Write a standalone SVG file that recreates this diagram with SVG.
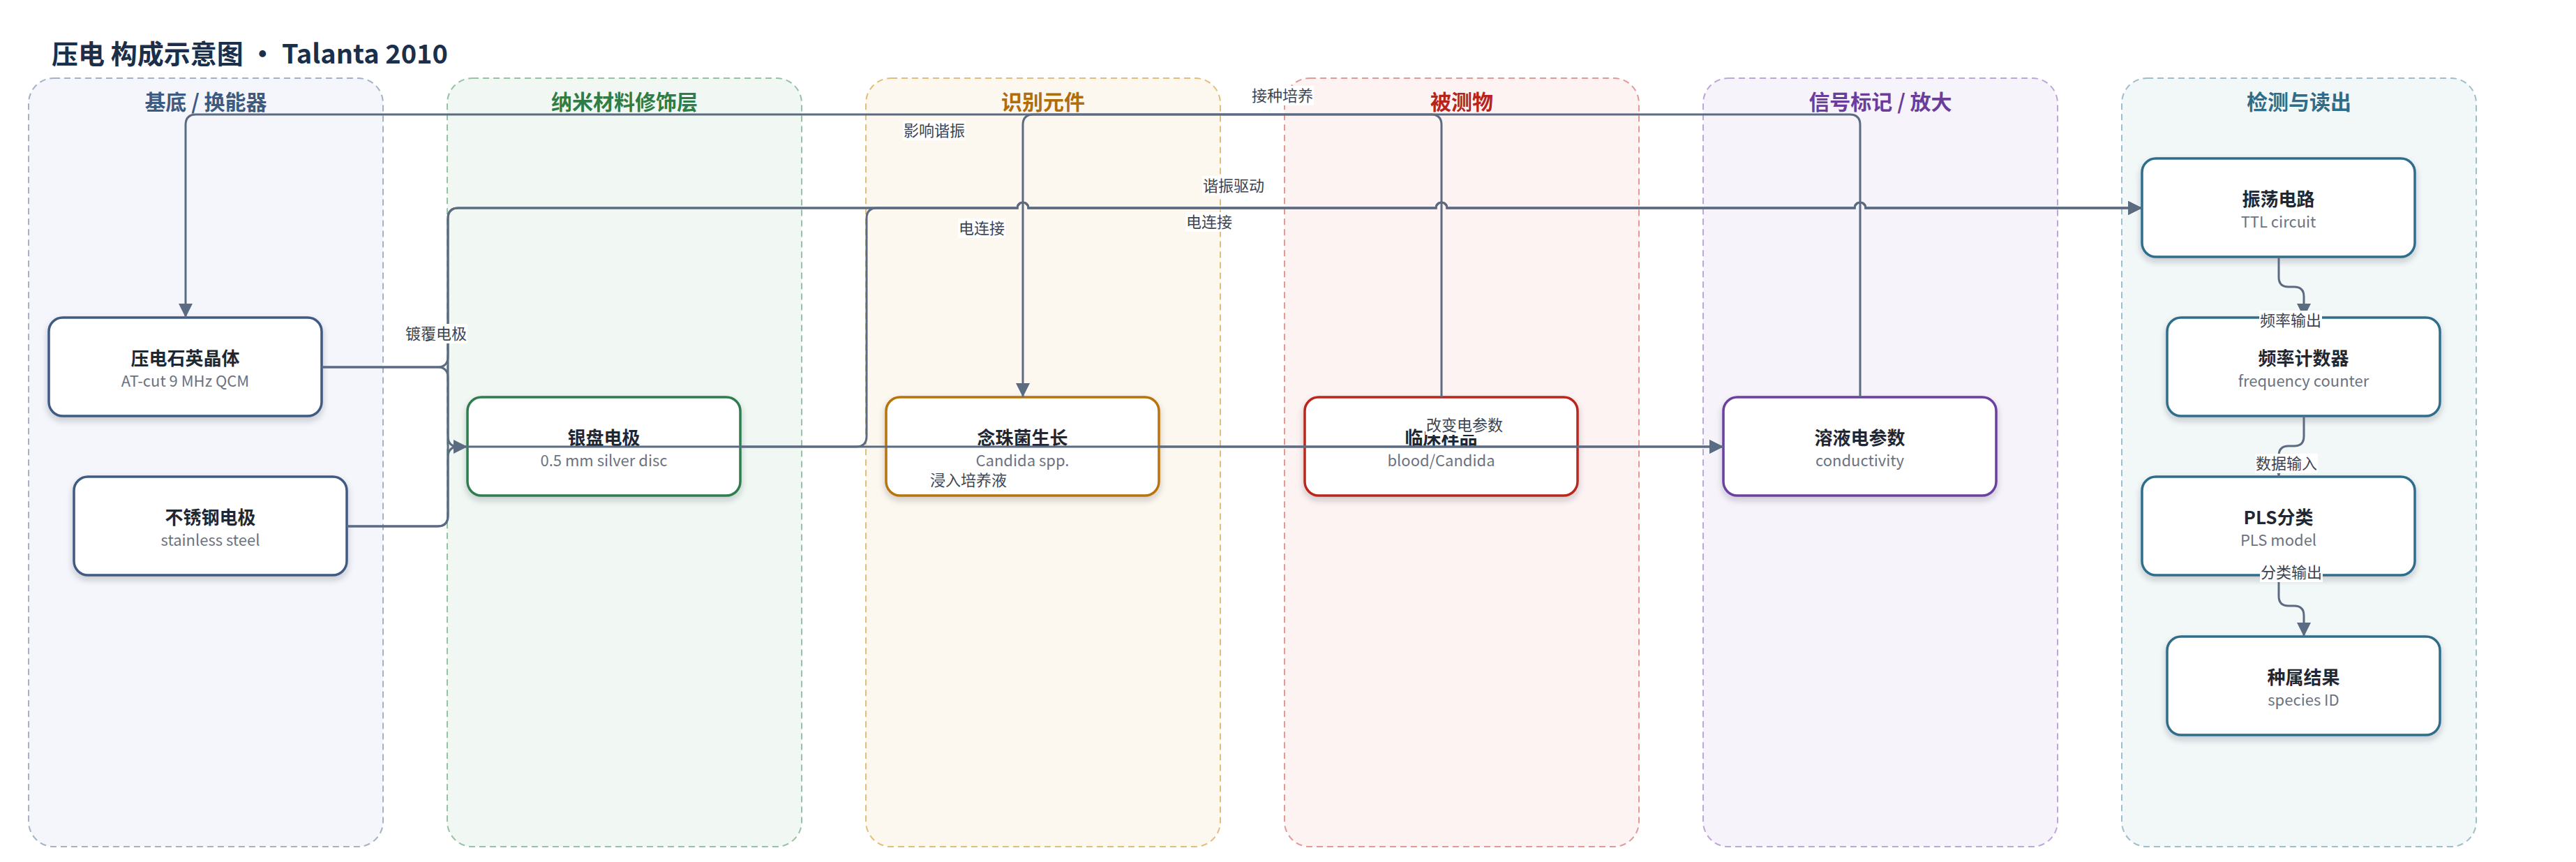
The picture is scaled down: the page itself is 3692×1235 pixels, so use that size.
<svg xmlns="http://www.w3.org/2000/svg" width="3692" height="1235" viewBox="0 0 3692 1235">
<style>
text{font-family:"Noto Sans CJK SC","Noto Sans",sans-serif}
.lane{stroke-width:2;stroke-dasharray:9 6}
.lt{font-size:30px;font-weight:700;text-anchor:middle}
.node rect{fill:#fff;stroke-width:3.5;filter:url(#sh)}
.t{font-size:26px;font-weight:700;fill:#1f2733;text-anchor:middle}
.s{font-size:22px;fill:#6b7280;text-anchor:middle}
.e{fill:none;stroke:#5b6b82;stroke-width:3}
.lb rect{fill:#fff}
.lb text{font-size:22px;fill:#3b4452;text-anchor:middle}
</style>
<defs>
<filter id="sh" x="-10%" y="-10%" width="120%" height="130%">
<feDropShadow dx="0" dy="5" stdDeviation="5" flood-color="#1f2937" flood-opacity="0.22"/>
</filter>
<marker id="ar" markerUnits="userSpaceOnUse" markerWidth="20" markerHeight="20" refX="20" refY="10" orient="auto">
<path d="M0,0 L20,10 L0,20 z" fill="#5b6b82"/>
</marker>
</defs>
<rect width="3692" height="1235" fill="#fff"/>
<text x="74" y="91" font-size="38" font-weight="700" fill="#1b2f4b">压电 构成示意图 · Talanta 2010</text>

<g id="lanes">
<g id="lane-substrate"><rect class="lane" x="41" y="112" width="508" height="1101" rx="36" fill="#f4f6fb" stroke="#a5b1c6"/><text class="lt" x="295" y="157" fill="#3d5a80">基底 / 换能器</text></g>
<g id="lane-nano"><rect class="lane" x="641" y="112" width="508" height="1101" rx="36" fill="#f1f8f3" stroke="#94c4a3"/><text class="lt" x="895" y="157" fill="#2e7d46">纳米材料修饰层</text></g>
<g id="lane-recog"><rect class="lane" x="1241" y="112" width="508" height="1101" rx="36" fill="#fdf8ef" stroke="#e3bd7a"/><text class="lt" x="1495" y="157" fill="#b26d0b">识别元件</text></g>
<g id="lane-analyte"><rect class="lane" x="1841" y="112" width="508" height="1101" rx="36" fill="#fdf3f2" stroke="#e39a97"/><text class="lt" x="2095" y="157" fill="#b8231d">被测物</text></g>
<g id="lane-signal"><rect class="lane" x="2441" y="112" width="508" height="1101" rx="36" fill="#f6f3fb" stroke="#bda6dc"/><text class="lt" x="2695" y="157" fill="#6a3d9a">信号标记 / 放大</text></g>
<g id="lane-readout"><rect class="lane" x="3041" y="112" width="508" height="1101" rx="36" fill="#f2f7f8" stroke="#9dbfcb"/><text class="lt" x="3295" y="157" fill="#2f6c8a">检测与读出</text></g>
</g>

<g id="nodes">
<g id="n-quartz" class="node"><rect x="70" y="455" width="391" height="141" rx="20" stroke="#3f5a82"/><text class="t" x="265.5" y="523">压电石英晶体</text><text class="s" x="265.5" y="554">AT-cut 9 MHz QCM</text></g>
<g id="n-steel" class="node"><rect x="106" y="683" width="391" height="141" rx="20" stroke="#3f5a82"/><text class="t" x="301.5" y="751">不锈钢电极</text><text class="s" x="301.5" y="782">stainless steel</text></g>
<g id="n-silver" class="node"><rect x="670" y="569" width="391" height="141" rx="20" stroke="#2e7d4f"/><text class="t" x="865.5" y="637">银盘电极</text><text class="s" x="865.5" y="668">0.5 mm silver disc</text></g>
<g id="n-candida" class="node"><rect x="1270" y="569" width="391" height="141" rx="20" stroke="#b8730c"/><text class="t" x="1465.5" y="637">念珠菌生长</text><text class="s" x="1465.5" y="668">Candida spp.</text></g>
<g id="n-sample" class="node"><rect x="1870" y="569" width="391" height="141" rx="20" stroke="#b8281f"/><text class="t" x="2065.5" y="637">临床样品</text><text class="s" x="2065.5" y="668">blood/Candida</text></g>
<g id="n-solution" class="node"><rect x="2470" y="569" width="391" height="141" rx="20" stroke="#6b3fa0"/><text class="t" x="2665.5" y="637">溶液电参数</text><text class="s" x="2665.5" y="668">conductivity</text></g>
<g id="n-osc" class="node"><rect x="3070" y="227" width="391" height="141" rx="20" stroke="#2f6d8c"/><text class="t" x="3265.5" y="295">振荡电路</text><text class="s" x="3265.5" y="326">TTL circuit</text></g>
<g id="n-counter" class="node"><rect x="3106" y="455" width="391" height="141" rx="20" stroke="#2f6d8c"/><text class="t" x="3301.5" y="523">频率计数器</text><text class="s" x="3301.5" y="554">frequency counter</text></g>
<g id="n-pls" class="node"><rect x="3070" y="683" width="391" height="141" rx="20" stroke="#2f6d8c"/><text class="t" x="3265.5" y="751">PLS分类</text><text class="s" x="3265.5" y="782">PLS model</text></g>
<g id="n-result" class="node"><rect x="3106" y="912" width="391" height="141" rx="20" stroke="#2f6d8c"/><text class="t" x="3301.5" y="980">种属结果</text><text class="s" x="3301.5" y="1011">species ID</text></g>
</g>

<g id="connectors">
<path class="e" marker-end="url(#ar)" d="M461 526 H627 Q642 526 642 541 V625 Q642 640 657 640 H670"/>
<path class="e" marker-end="url(#ar)" d="M497 754 H627 Q642 754 642 739 V655 Q642 640 657 640 H2470"/>
<path class="e" marker-end="url(#ar)" d="M461 526 H627 Q642 526 642 511 V313 Q642 298 657 298 H1458 A8 8 0 0 1 1474 298 H2058 A8 8 0 0 1 2074 298 H2658 A8 8 0 0 1 2674 298 H3070"/>
<path class="e" marker-end="url(#ar)" d="M497 754 H627 Q642 754 642 739 V313 Q642 298 657 298 H1458 A8 8 0 0 1 1474 298 H2058 A8 8 0 0 1 2074 298 H2658 A8 8 0 0 1 2674 298 H3070"/>
<path class="e" marker-end="url(#ar)" d="M1061 640 H1227 Q1242 640 1242 625 V313 Q1242 298 1257 298 H1458 A8 8 0 0 1 1474 298 H2058 A8 8 0 0 1 2074 298 H2658 A8 8 0 0 1 2674 298 H3070"/>
<path class="e" marker-end="url(#ar)" d="M1661 640 H2470"/>
<path class="e" marker-end="url(#ar)" d="M2066 569 V179 Q2066 164 2051 164 H1481 Q1466 164 1466 179 V569"/>
<path class="e" marker-end="url(#ar)" d="M2666 569 V179 Q2666 164 2651 164 H281 Q266 164 266 179 V455"/>
<path class="e" marker-end="url(#ar)" d="M3266 368 V397 Q3266 411 3280 411 H3288 Q3302 411 3302 425 V455"/>
<path class="e" marker-end="url(#ar)" d="M3302 596 V625 Q3302 639 3288 639 H3280 Q3266 639 3266 653 V683"/>
<path class="e" marker-end="url(#ar)" d="M3266 824 V854 Q3266 868 3280 868 H3288 Q3302 868 3302 882 V912"/>
</g>

<g id="labels">
<g class="lb"><rect x="580" y="464" width="90" height="28"/><text x="625" y="486">镀覆电极</text></g>
<g class="lb"><rect x="1294" y="173" width="90" height="28"/><text x="1339" y="195">影响谐振</text></g>
<g class="lb"><rect x="1793" y="123" width="90" height="28"/><text x="1838" y="145">接种培养</text></g>
<g class="lb"><rect x="1723" y="252" width="90" height="28"/><text x="1768" y="274">谐振驱动</text></g>
<g class="lb"><rect x="1373" y="313" width="68" height="28"/><text x="1407" y="335">电连接</text></g>
<g class="lb"><rect x="1699" y="304" width="68" height="28"/><text x="1733" y="326">电连接</text></g>
<g class="lb"><rect x="1332" y="674" width="112" height="28"/><text x="1388" y="696">浸入培养液</text></g>
<g class="lb"><rect x="2043" y="595" width="112" height="28"/><text x="2099" y="617">改变电参数</text></g>
<g class="lb"><rect x="3238" y="445" width="90" height="28"/><text x="3283" y="467">频率输出</text></g>
<g class="lb"><rect x="3232" y="650" width="90" height="28"/><text x="3277" y="672">数据输入</text></g>
<g class="lb"><rect x="3239" y="806" width="90" height="28"/><text x="3284" y="828">分类输出</text></g>
</g>
</svg>
